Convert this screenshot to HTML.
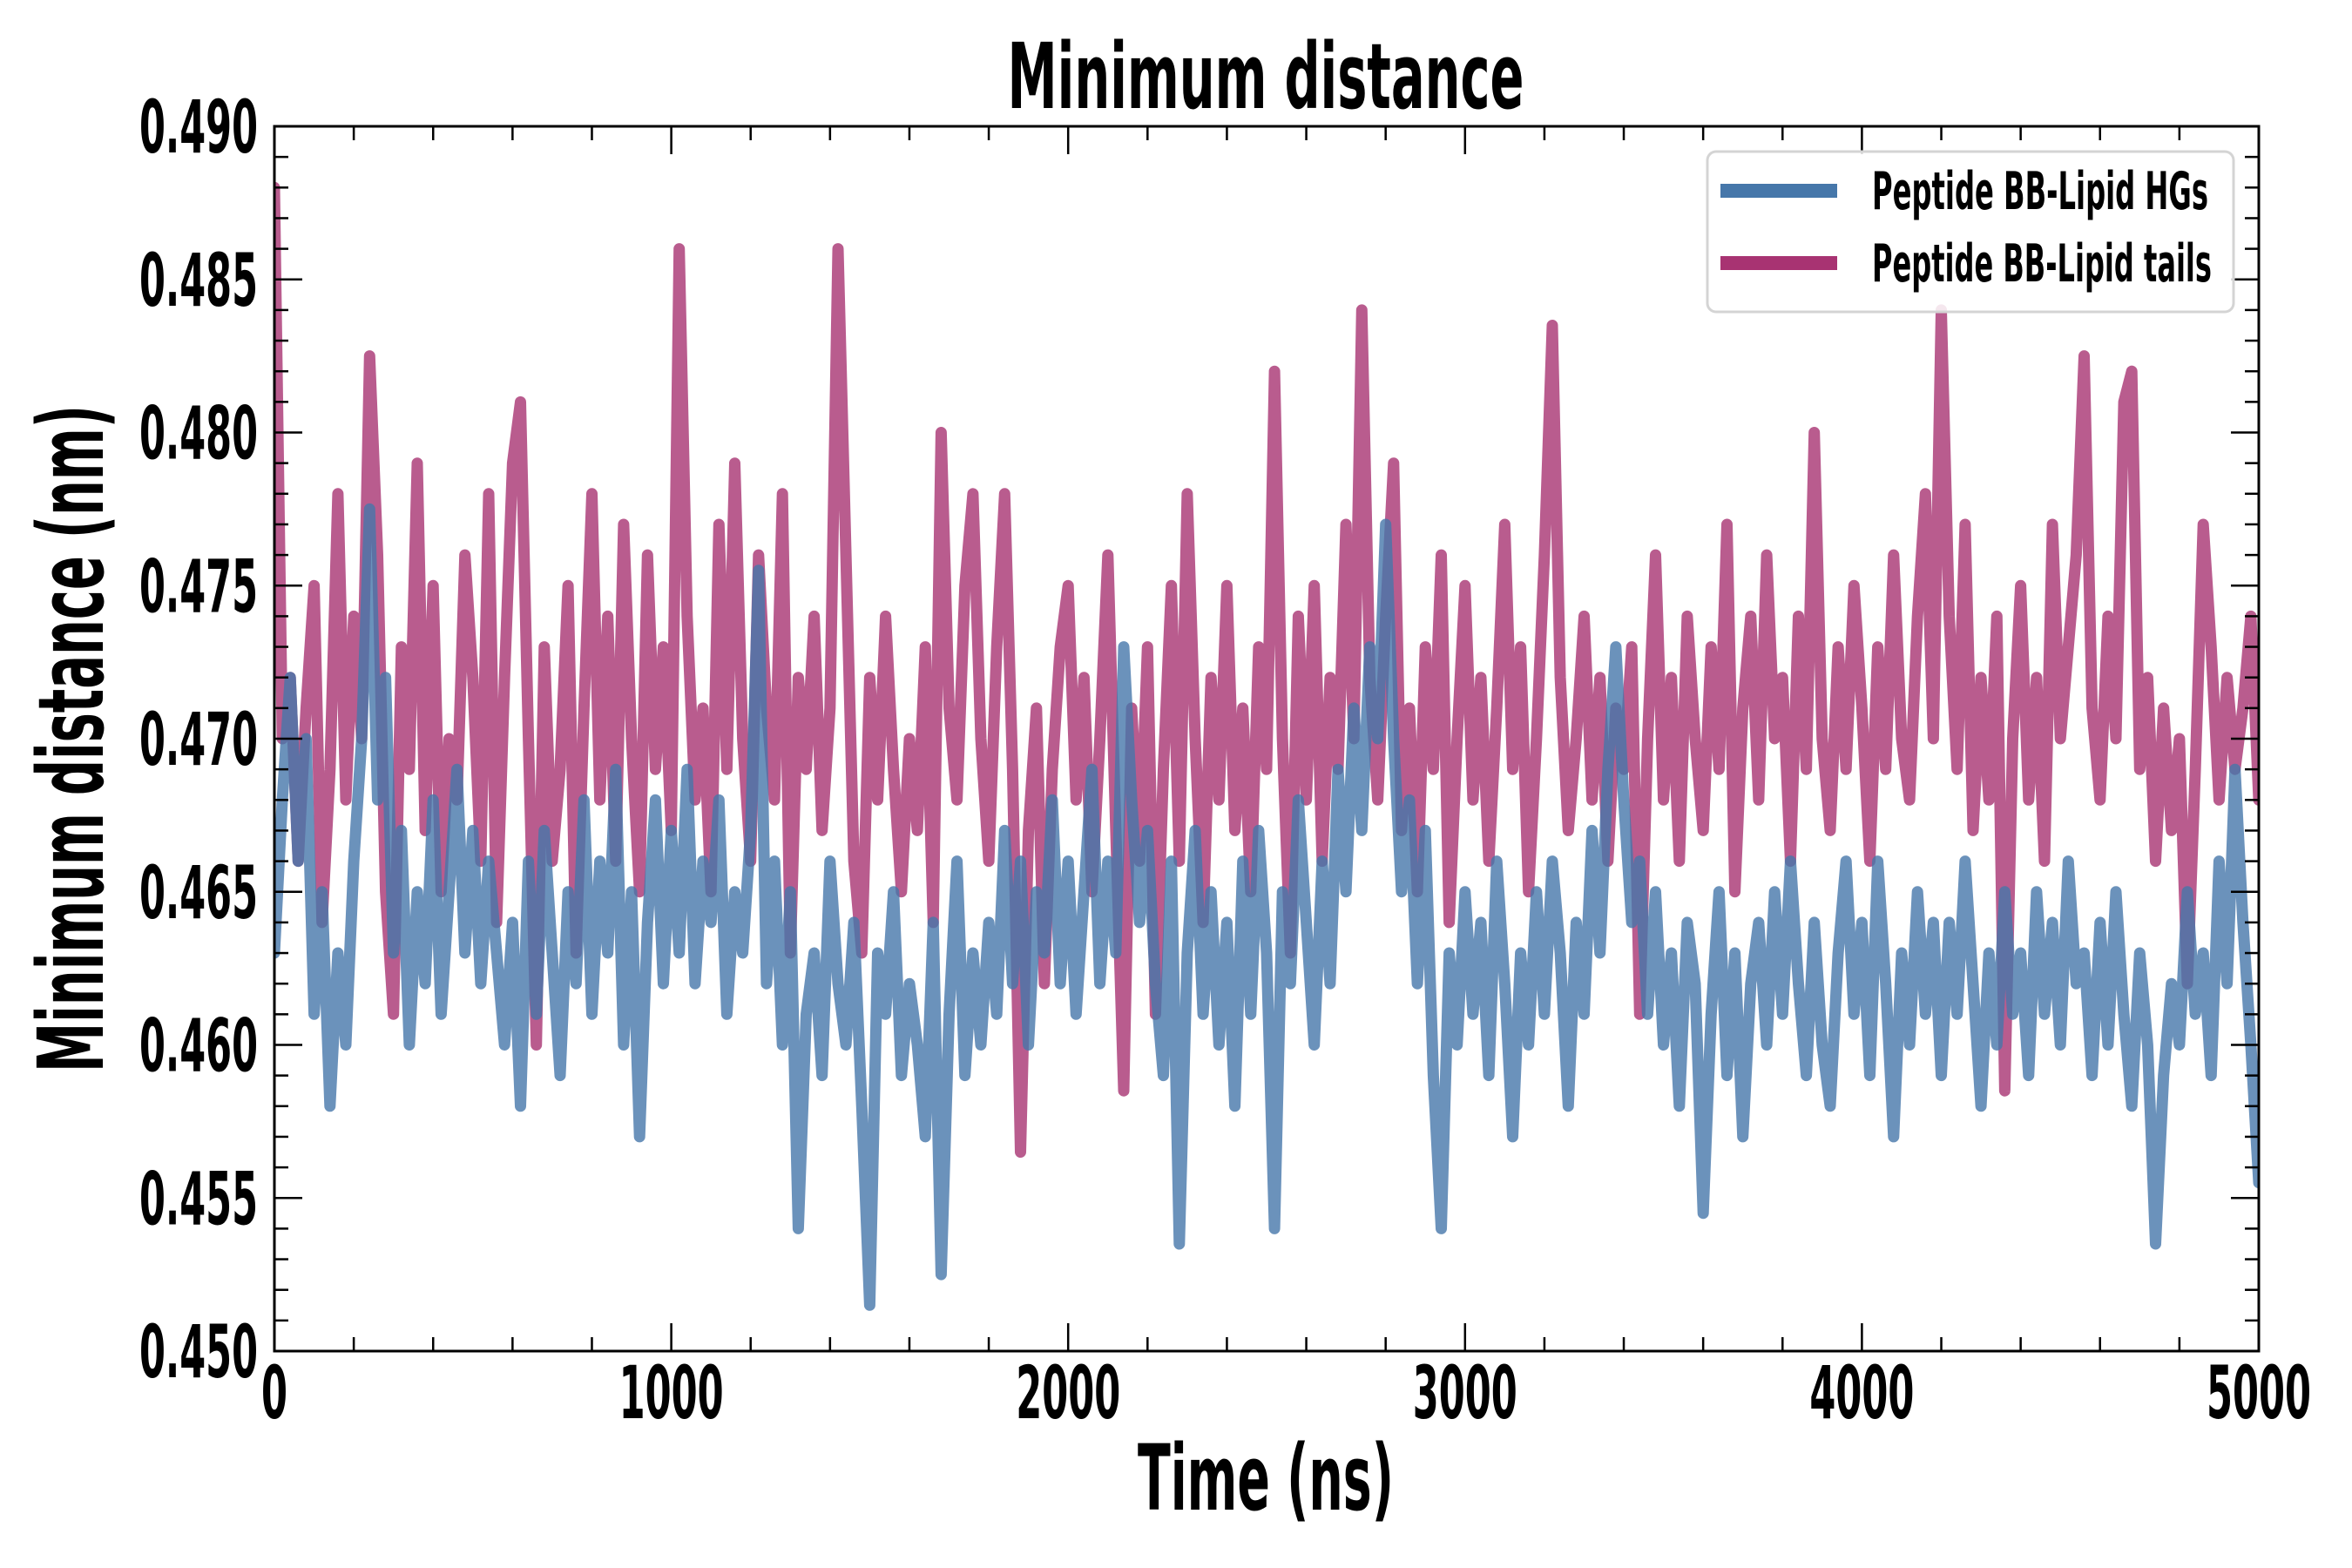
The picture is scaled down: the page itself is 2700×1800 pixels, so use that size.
<!DOCTYPE html>
<html><head><meta charset="utf-8"><style>
html,body{margin:0;padding:0;background:#fff;}
svg{display:block;}
text{font-family:"Liberation Sans Narrow","DejaVu Sans Condensed","Liberation Sans",sans-serif;font-weight:bold;fill:#000;}
</style></head><body>
<svg id="chart" width="2700" height="1800" viewBox="0 0 2700 1800" xmlns="http://www.w3.org/2000/svg">
<rect width="2700" height="1800" fill="#fff"/>
<g id="plot"></g>
<g id="axes"></g>
<text x="1453" y="124" font-size="104" text-anchor="middle" textLength="593" lengthAdjust="spacingAndGlyphs">Minimum distance</text>
<text x="1453" y="1733" font-size="104" text-anchor="middle" textLength="294" lengthAdjust="spacingAndGlyphs">Time (ns)</text>
<text transform="translate(118,848) rotate(-90)" x="0" y="0" font-size="104" text-anchor="middle" textLength="766" lengthAdjust="spacingAndGlyphs">Minimum distance (nm)</text>
<g>
<rect x="1960" y="174" width="604" height="184" rx="10" fill="#fff" fill-opacity="0.85" stroke="#d4d4d4" stroke-width="3"/>
<g>
<rect x="1975" y="211" width="134" height="16" fill="#4677aa"/>
<text x="2149" y="240" font-size="60" textLength="386" lengthAdjust="spacingAndGlyphs">Peptide BB-Lipid HGs</text>
</g>
<g>
<rect x="1975" y="294" width="134" height="16" fill="#a83372"/>
<text x="2149" y="323" font-size="60" textLength="390" lengthAdjust="spacingAndGlyphs">Peptide BB-Lipid tails</text>
</g>
</g>
</svg>
<script>
const tStep = 20;
const tailsValues = [
0.488,0.470,0.472,0.466,0.471,0.475,0.464,0.469,0.478,0.468,
0.474,0.470,0.4825,0.476,0.465,0.461,0.473,0.469,0.479,0.467,
0.475,0.465,0.470,0.468,0.476,0.472,0.466,0.478,0.464,0.472,
0.479,0.481,0.470,0.460,0.473,0.466,0.469,0.475,0.463,0.471,
0.478,0.468,0.474,0.466,0.477,0.470,0.465,0.476,0.469,0.473,
0.467,0.486,0.474,0.468,0.471,0.465,0.477,0.469,0.479,0.470,
0.466,0.476,0.471,0.468,0.478,0.463,0.472,0.469,0.474,0.467,
0.471,0.486,0.476,0.466,0.463,0.472,0.468,0.474,0.469,0.465,
0.470,0.467,0.473,0.464,0.480,0.471,0.468,0.475,0.478,0.470,
0.466,0.473,0.478,0.469,0.4565,0.467,0.471,0.462,0.469,0.473,
0.475,0.468,0.472,0.465,0.470,0.476,0.467,0.4585,0.471,0.466,
0.473,0.461,0.469,0.475,0.466,0.478,0.470,0.464,0.472,0.468,
0.475,0.467,0.471,0.465,0.473,0.469,0.482,0.470,0.463,0.474,
0.468,0.475,0.466,0.472,0.469,0.477,0.470,0.484,0.472,0.468,
0.474,0.479,0.467,0.471,0.465,0.473,0.469,0.476,0.464,0.470,
0.475,0.468,0.472,0.466,0.471,0.477,0.469,0.473,0.465,0.470,
0.476,0.4835,0.472,0.467,0.470,0.474,0.468,0.472,0.466,0.471,
0.469,0.473,0.461,0.470,0.476,0.468,0.472,0.466,0.474,0.470,
0.467,0.473,0.469,0.477,0.465,0.471,0.474,0.468,0.476,0.470,
0.472,0.466,0.474,0.469,0.480,0.470,0.467,0.473,0.469,0.475,
0.471,0.466,0.473,0.469,0.476,0.470,0.468,0.474,0.478,0.470,
0.484,0.474,0.469,0.477,0.467,0.472,0.468,0.474,0.4585,0.470,
0.475,0.468,0.472,0.466,0.477,0.470,0.473,0.476,0.4825,0.471,
0.468,0.474,0.470,0.481,0.482,0.469,0.472,0.466,0.471,0.467,
0.470,0.462,0.469,0.477,0.473,0.468,0.472,0.469,0.471,0.474,
0.468];
const hgsValues = [
0.463,0.468,0.472,0.466,0.470,0.461,0.465,0.458,0.463,0.460,
0.466,0.470,0.4775,0.468,0.472,0.463,0.467,0.460,0.465,0.462,
0.468,0.461,0.465,0.469,0.463,0.467,0.462,0.466,0.463,0.460,
0.464,0.458,0.466,0.461,0.467,0.463,0.459,0.465,0.462,0.468,
0.461,0.466,0.463,0.469,0.460,0.465,0.457,0.464,0.468,0.462,
0.467,0.463,0.469,0.462,0.466,0.464,0.468,0.461,0.465,0.463,
0.467,0.4755,0.462,0.466,0.460,0.465,0.454,0.461,0.463,0.459,
0.466,0.462,0.460,0.464,0.458,0.4515,0.463,0.461,0.465,0.459,
0.462,0.460,0.457,0.464,0.4525,0.461,0.466,0.459,0.463,0.460,
0.464,0.461,0.467,0.462,0.466,0.460,0.465,0.463,0.468,0.462,
0.466,0.461,0.465,0.469,0.462,0.466,0.463,0.473,0.468,0.464,
0.467,0.462,0.459,0.466,0.4535,0.463,0.467,0.461,0.465,0.460,
0.464,0.458,0.466,0.461,0.467,0.463,0.454,0.465,0.462,0.468,
0.464,0.460,0.466,0.462,0.469,0.465,0.471,0.467,0.473,0.470,
0.477,0.470,0.465,0.468,0.462,0.467,0.459,0.454,0.463,0.460,
0.465,0.461,0.464,0.459,0.466,0.462,0.457,0.463,0.460,0.465,
0.461,0.466,0.463,0.458,0.464,0.461,0.467,0.463,0.469,0.473,
0.468,0.464,0.466,0.461,0.465,0.460,0.463,0.458,0.464,0.462,
0.4545,0.461,0.465,0.459,0.463,0.457,0.462,0.464,0.460,0.465,
0.461,0.466,0.462,0.459,0.464,0.460,0.458,0.463,0.466,0.461,
0.464,0.459,0.466,0.462,0.457,0.463,0.460,0.465,0.461,0.464,
0.459,0.464,0.461,0.466,0.462,0.458,0.463,0.460,0.465,0.461,
0.463,0.459,0.465,0.461,0.464,0.460,0.466,0.462,0.463,0.459,
0.464,0.460,0.465,0.461,0.458,0.463,0.460,0.4535,0.459,0.462,
0.460,0.465,0.461,0.463,0.459,0.466,0.462,0.469,0.464,0.460,
0.4555];
const xTickLabels = ["0","1000","2000","3000","4000","5000"];
const yTickLabels = ["0.450","0.455","0.460","0.465","0.470","0.475","0.480","0.485","0.490"];

const NS = "http://www.w3.org/2000/svg";
const L = 315, R = 2593, T = 145, B = 1551;
const xMin = 0, xMax = 5000, yMin = 0.450, yMax = 0.490;
function xs(v){ return L + (v - xMin) / (xMax - xMin) * (R - L); }
function ys(v){ return B - (v - yMin) / (yMax - yMin) * (B - T); }
function mk(tag, attrs, parent){
  const e = document.createElementNS(NS, tag);
  for (const k in attrs) e.setAttribute(k, attrs[k]);
  parent.appendChild(e);
  return e;
}
const plot = document.getElementById('plot');
const axes = document.getElementById('axes');

function drawSeries(vals, color, name){
  const pts = vals.map((v, i) => xs(i * tStep).toFixed(1) + ',' + ys(v).toFixed(1)).join(' ');
  const pl = mk('polyline', {points: pts, fill: 'none', stroke: color, 'stroke-width': 13, 'stroke-opacity': 0.8, 'stroke-linejoin': 'round', 'stroke-linecap': 'round'}, plot);
  
  
}
const clip = mk('clipPath', {id: 'clipPlot'}, document.getElementById('chart'));
mk('rect', {x: L, y: T, width: R - L, height: B - T}, clip);
plot.setAttribute('clip-path', 'url(#clipPlot)');
drawSeries(tailsValues, '#a83372', 'series-lipid-tails');
drawSeries(hgsValues, '#4677aa', 'series-lipid-hgs');

const frame = mk('rect', {x: L, y: T, width: R - L, height: B - T, fill: 'none', stroke: '#000', 'stroke-width': 3}, axes);



for (let v = 0; v <= 5000; v += 200) {
  const major = v % 1000 === 0;
  const len = major ? 32 : 16;
  const x = xs(v);
  const t1 = mk('line', {x1: x, x2: x, y1: B, y2: B - len, stroke: '#000', 'stroke-width': 2.5}, axes);
  
  
  const t2 = mk('line', {x1: x, x2: x, y1: T, y2: T + len, stroke: '#000', 'stroke-width': 2.5}, axes);
  
  
}
xTickLabels.forEach(s => {
  const v = parseFloat(s);
  const tx = mk('text', {x: xs(v), y: 1628, 'font-size': 84, 'text-anchor': 'middle', textLength: 30 * s.length, lengthAdjust: 'spacingAndGlyphs'}, axes);
  tx.textContent = s;
  
  
});
for (let k = 0; k <= 40; k++) {
  const v = 0.450 + k * 0.001;
  const major = k % 5 === 0;
  const len = major ? 32 : 16;
  const y = ys(v);
  const t1 = mk('line', {x1: L, x2: L + len, y1: y, y2: y, stroke: '#000', 'stroke-width': 2.5}, axes);
  
  
  const t2 = mk('line', {x1: R, x2: R - len, y1: y, y2: y, stroke: '#000', 'stroke-width': 2.5}, axes);
  
  
}
yTickLabels.forEach(s => {
  const v = parseFloat(s);
  const ty = mk('text', {x: 296, y: ys(v) + 30, 'font-size': 84, 'text-anchor': 'end', textLength: 136, lengthAdjust: 'spacingAndGlyphs'}, axes);
  ty.textContent = s;
  
  
});
</script>
</body></html>
